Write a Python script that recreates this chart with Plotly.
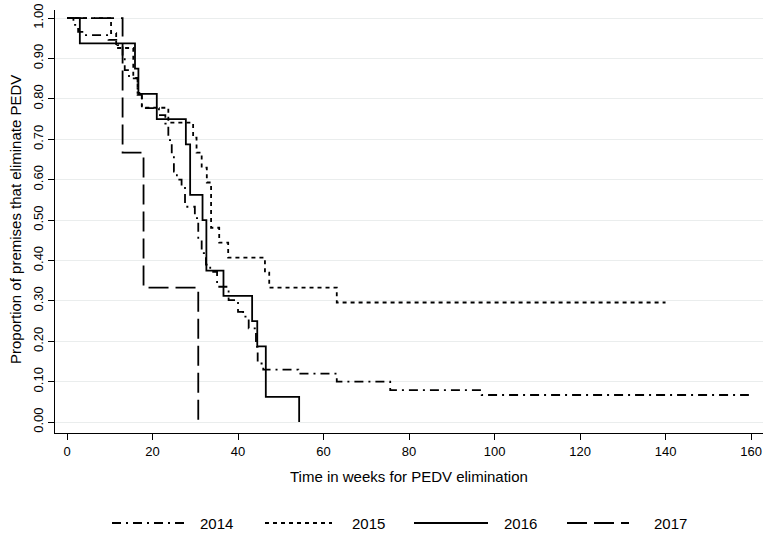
import plotly.graph_objects as go

# Kaplan-Meier style curves
years = ["2014", "2015", "2016", "2017"]

t_2014 = [0, 1.5, 2.6, 4.2, 9.7, 11.8, 13.0, 13.5, 14.5, 16.5, 17.5, 21.5, 23.0,
          23.7, 24.5, 25.0, 25.7, 26.8, 27.6, 29.9, 30.7, 31.5, 32.5, 33.5, 35.1,
          37.8, 40.0, 41.2, 42.5, 44.2, 44.6, 45.9, 54.1, 63.1, 75.6, 97.0, 159.5]
s_2014 = [1.0, 0.983, 0.966, 0.958, 0.946, 0.933, 0.904, 0.871, 0.851, 0.81, 0.777, 0.76, 0.739,
          0.698, 0.665, 0.62, 0.60, 0.583, 0.533, 0.505, 0.45, 0.418, 0.39, 0.372, 0.335,
          0.302, 0.273, 0.261, 0.232, 0.186, 0.145, 0.130, 0.120, 0.100, 0.079, 0.067, 0.067]

t_2015 = [0, 10.3, 11.5, 15.5, 16.5, 17.5, 23.7, 29.5, 30.3, 31.5, 32.7, 33.7,
          35.6, 37.7, 46.3, 47.3, 63.1, 140]
s_2015 = [1.0, 0.963, 0.926, 0.852, 0.815, 0.778, 0.741, 0.704, 0.667, 0.630, 0.593, 0.481,
          0.444, 0.407, 0.370, 0.333, 0.296, 0.296]

t_2016 = [0, 3.0, 15.9, 16.7, 21.0, 27.8, 28.8, 31.7, 32.6, 36.6, 43.3, 44.5, 46.5, 54.3]
s_2016 = [1.0, 0.9375, 0.875, 0.8125, 0.75, 0.6875, 0.5625, 0.5, 0.375, 0.3125, 0.25,
          0.1875, 0.0625, 0.0]

t_2017 = [0, 13.0, 17.9, 30.7]
s_2017 = [1.0, 0.667, 0.333, 0.0]

x_ticks = [0, 20, 40, 60, 80, 100, 120, 140, 160]
y_ticks = [0, 0.1, 0.2, 0.3, 0.4, 0.5, 0.6, 0.7, 0.8, 0.9, 1.0]

dashes = ["9px,5px,2px,5px", "4px,4px", "solid", "20px,7px"]
series = [(t_2014, s_2014), (t_2015, s_2015), (t_2016, s_2016), (t_2017, s_2017)]

FONT = "Liberation Sans, Arial, sans-serif"

fig = go.Figure()
for name, (t, s), d in zip(years, series, dashes):
    fig.add_trace(go.Scatter(x=t, y=s, mode="lines", name=name, line_shape="hv",
                             line=dict(color="black", width=1.8, dash=d),
                             showlegend=False))

# plot box in pixels, used to place the hand-made legend and titles
L, W, T, B = 55, 708, 10, 433
H = B - T

def px_x(p):
    return (p - L) / W

def px_y(p):
    return (B - p) / H

# legend with wide samples like the original
leg_line = [(112, 188), (265, 332), (414, 488), (567, 629)]
leg_text = [198, 350, 502, 652]
ly = px_y(523)
for name, d, (a, b), tx in zip(years, dashes, leg_line, leg_text):
    fig.add_shape(type="line", xref="paper", yref="paper",
                  x0=px_x(a), x1=px_x(b), y0=ly, y1=ly,
                  line=dict(color="black", width=1.8, dash=d))
    fig.add_annotation(xref="paper", yref="paper", x=px_x(tx), y=ly,
                       text=name, showarrow=False, xanchor="left", yanchor="middle",
                       font=dict(size=15, color="black", family=FONT))

fig.add_annotation(xref="paper", yref="paper", x=px_x(409), y=px_y(477),
                   text="Time in weeks for PEDV elimination", showarrow=False,
                   xanchor="center", yanchor="middle",
                   font=dict(size=15, color="black", family=FONT))
fig.add_annotation(xref="paper", yref="paper", x=px_x(15), y=px_y(220),
                   text="Proportion of premises that eliminate PEDV", showarrow=False,
                   textangle=-90, xanchor="center", yanchor="middle",
                   font=dict(size=15, color="black", family=FONT))

fig.update_layout(
    width=767, height=540,
    margin=dict(l=L, r=767 - L - W, t=T, b=540 - B),
    paper_bgcolor="white", plot_bgcolor="white",
    font=dict(family=FONT, size=13, color="black"),
    xaxis=dict(range=[-2.81, 162.8], tickvals=x_ticks, showgrid=False,
               showline=True, linecolor="black", linewidth=1,
               ticks="outside", ticklen=6, tickcolor="black",
               tickfont=dict(size=13), zeroline=False, automargin=False),
    yaxis=dict(range=[-0.027, 1.020], tickvals=y_ticks, tickformat=".2f",
               tickangle=-90, showgrid=True, gridcolor="#eaeded", gridwidth=1,
               showline=True, linecolor="black", linewidth=1,
               ticks="outside", ticklen=6, tickcolor="black",
               tickfont=dict(size=13), zeroline=False, automargin=False),
)

# the page body has a default 8px margin; drop it so the figure fills the window
fig.write_html("out.html", config={"displayModeBar": False},
               post_script="document.body.style.margin='0';document.body.style.padding='0';")
